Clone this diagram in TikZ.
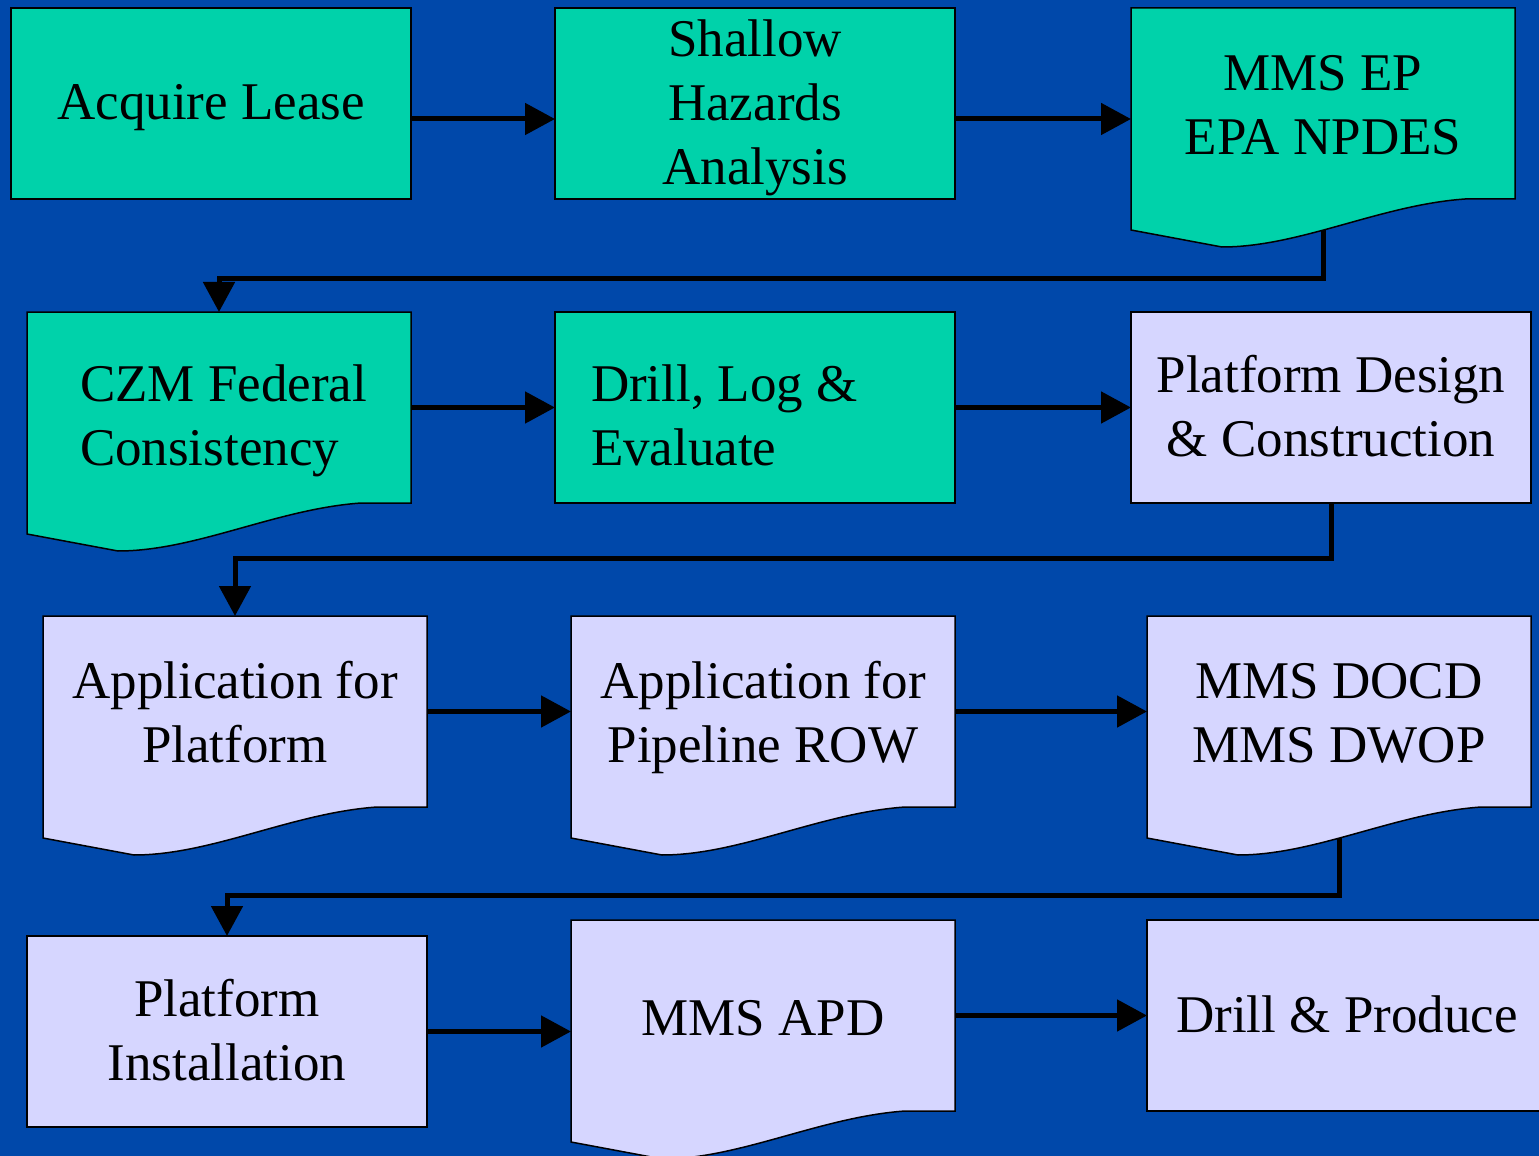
\documentclass[tikz,border=0pt]{standalone}
\usepackage{fontspec}
\setmainfont{Liberation Serif}
\usetikzlibrary{arrows.meta,calc}
\definecolor{bgblue}{RGB}{0,72,170}
\definecolor{tealbox}{RGB}{0,210,170}
\definecolor{lavbox}{RGB}{214,214,255}
\pgfdeclarelayer{bglayer}
\pgfdeclarelayer{connlayer}
\pgfsetlayers{bglayer,connlayer,main}
\newcommand\docshape[2]{\draw[boxline,fill=#2] (#1.north west) -- (#1.north east) -- (#1.south east)
  -- ($(#1.south east)+(-50,0)$)
  .. controls ($(#1.south east)+(-135,6)$) and ($(#1.south east)+(-215,48)$) .. ($(#1.south east)+(-293,48)$)
  -- ($(#1.south west)+(0,31)$) -- cycle;}
\newcommand\mytab[2][c]{\begin{tabular}[t]{@{}#1@{}}#2\end{tabular}}
\begin{document}
\begin{tikzpicture}[x=0.5pt,y=-0.5pt,
  boxline/.style={draw=black,line width=0.75pt},
  rbox/.style={boxline,rectangle,inner sep=0pt,outer sep=0pt,minimum width=200pt,minimum height=95.5pt},
  dbox/.style={rectangle,draw=none,inner sep=0pt,outer sep=0pt,minimum width=192pt,minimum height=95.5pt},
  txt/.style={font=\fontsize{26.5}{32}\selectfont,inner sep=0pt,outer sep=0pt,anchor=base,text=black},
  conn/.style={line width=2.5pt,draw=black,-{Triangle[length=15pt,width=15.5pt]}}]
\useasboundingbox (0,0) rectangle (1539,1156);
\begin{pgfonlayer}{bglayer}
\fill[bgblue] (0,0) rectangle (1539,1156);
\end{pgfonlayer}
\clip (0,0) rectangle (1539,1156);
% row 1
\node[rbox,fill=tealbox] (b1) at (211,103.5) {};
\node[rbox,fill=tealbox] (b2) at (755,103.5) {};
\node[dbox] (b3) at (1323,103.5) {};
\docshape{b3}{tealbox}
% row 2
\node[dbox] (b4) at (219,407.5) {};
\docshape{b4}{tealbox}
\node[rbox,fill=tealbox] (b5) at (755,407.5) {};
\node[rbox,fill=lavbox] (b6) at (1331,407.5) {};
% row 3
\node[dbox] (b7) at (235,711.5) {};
\docshape{b7}{lavbox}
\node[dbox] (b8) at (763,711.5) {};
\docshape{b8}{lavbox}
\node[dbox] (b9) at (1339,711.5) {};
\docshape{b9}{lavbox}
% row 4
\node[rbox,fill=lavbox] (b10) at (227,1031.5) {};
\node[dbox] (b11) at (763,1015.5) {};
\docshape{b11}{lavbox}
\node[rbox,fill=lavbox] (b12) at (1347,1015.5) {};
% texts
\node[txt] (t1) at (211,120) {Acquire Lease};
\node[txt] (t2) at (755,57) {\mytab{Shallow\\Hazards\\Analysis}};
\node[txt] (t3) at (1323,90.7) {\mytab{MMS EP\\EPA NPDES}};
\node[txt,anchor=base west] (t4) at (80,401.7) {\mytab[l]{CZM Federal\\Consistency}};
\node[txt,anchor=base west] (t5) at (591,401.7) {\mytab[l]{Drill, Log \&\\Evaluate}};
\node[txt] (t6) at (1331,392.7) {\mytab{Platform Design\\\& Construction}};
\node[txt] (t7) at (235,698) {\mytab{Application for\\Platform}};
\node[txt] (t8) at (763,698) {\mytab{Application for\\Pipeline ROW}};
\node[txt] (t9) at (1339,698) {\mytab{MMS DOCD\\MMS DWOP}};
\node[txt] (t10) at (227,1016) {\mytab{Platform\\Installation}};
\node[txt] (t11) at (763,1035) {MMS APD};
\node[txt] (t12) at (1347,1032) {Drill \& Produce};
% connectors
\begin{pgfonlayer}{connlayer}
\draw[conn] ($(b1.east)+(0,15.5)$) -- ($(b2.west)+(0,15.5)$);
\draw[conn] ($(b2.east)+(0,15.5)$) -- ($(b3.west)+(0,15.5)$);
\draw[conn] (b3.south) -- ++(0,80) -| (b4.north);
\draw[conn] (b4.east) -- (b5.west);
\draw[conn] (b5.east) -- (b6.west);
\draw[conn] (b6.south) -- ++(0,55) -| (b7.north);
\draw[conn] (b7.east) -- (b8.west);
\draw[conn] (b8.east) -- (b9.west);
\draw[conn] (b9.south) -- ++(0,88) -| (b10.north);
\draw[conn] (b10.east) -- (b11.west |- b10.east);
\draw[conn] (b11.east) -- (b12.west);
\end{pgfonlayer}
\end{tikzpicture}
\end{document}
